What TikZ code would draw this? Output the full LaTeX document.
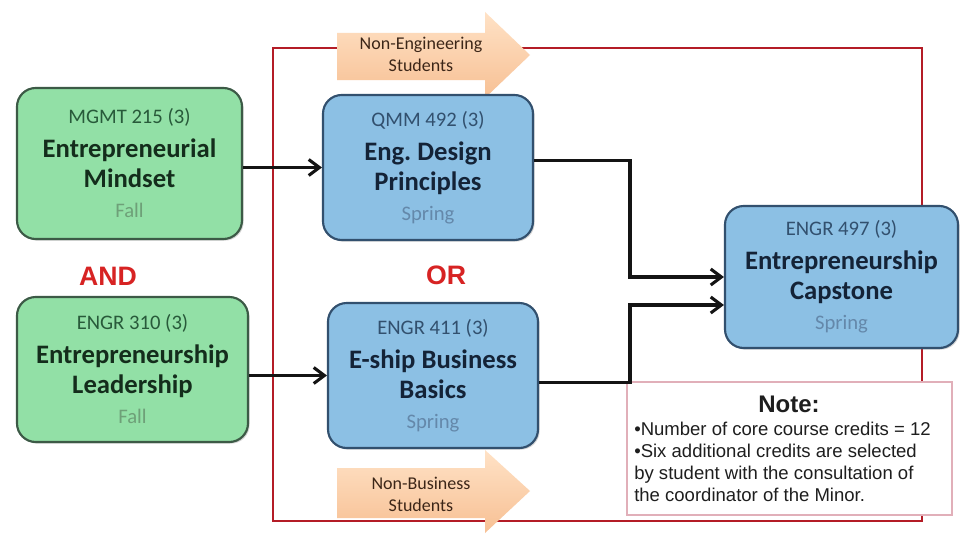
\documentclass[tikz,border=0pt]{standalone}
\usepackage{fontspec}
\setmainfont{Carlito}
\newfontfamily\arialf{Liberation Sans}
\usetikzlibrary{arrows.meta,shadows,calc}
\definecolor{gfill}{RGB}{146,224,166}
\definecolor{gborder}{RGB}{60,90,70}
\definecolor{gtitle}{RGB}{20,45,28}
\definecolor{gsub}{RGB}{40,90,58}
\definecolor{gterm}{RGB}{110,160,120}
\definecolor{bfill}{RGB}{140,192,228}
\definecolor{bborder}{RGB}{50,80,110}
\definecolor{btitle}{RGB}{20,35,55}
\definecolor{bsub}{RGB}{50,80,110}
\definecolor{bterm}{RGB}{100,136,170}
\definecolor{redframe}{RGB}{180,28,38}
\definecolor{andred}{RGB}{215,35,35}
\definecolor{peachtop}{RGB}{255,226,198}
\definecolor{peachbot}{RGB}{247,192,148}
\definecolor{arrowtext}{RGB}{60,38,24}
\definecolor{noteborder}{RGB}{225,175,185}
\definecolor{notetext}{RGB}{30,30,30}
\definecolor{connc}{RGB}{20,20,20}
\newcommand\boxsub[2]{{\fontsize{15.5}{18}\selectfont\mdseries\color{#1}#2}}
\tikzset{
  box/.style={rounded corners=14pt, line width=1.6pt, align=center, inner sep=0pt,
    drop shadow={shadow xshift=1.2pt, shadow yshift=-1.2pt, opacity=0.35},
    font=\fontsize{20}{22.5}\selectfont\bfseries},
  gbox/.style={box, draw=gborder, fill=gfill, text=gtitle},
  bbox/.style={box, draw=bborder, fill=bfill, text=btitle},
  conn/.style={line width=2.3pt, draw=connc, -{Straight Barb[length=8pt,width=12pt,line width=2.3pt]}},
  logic/.style={font=\arialf\bfseries\fontsize{20}{24}\selectfont, text=andred},
  arrowlabel/.style={align=center, font=\fontsize{13.5}{16.5}\selectfont, text=arrowtext},
  fatarrow/.style={top color=peachtop, bottom color=peachbot, draw=none},
}
\begin{document}
\begin{tikzpicture}[x=0.75pt,y=-0.75pt]
\useasboundingbox (0,0) rectangle (962,535);
\fill[white] (0,0) rectangle (962,535);

% red frame
\draw[redframe, line width=1.8pt] (273,48) rectangle (922,521);

% fat arrows
\shade[fatarrow] (337,33) -- (485,33) -- (485,12) -- (530,55) -- (485,98) -- (485,80) -- (337,80) -- cycle;
\node[arrowlabel] (nonengr) at (421,54) {Non-Engineering\\Students};
\shade[fatarrow] (337,468) -- (485,468) -- (485,450) -- (530,491) -- (485,533) -- (485,518) -- (337,518) -- cycle;
\node[arrowlabel] (nonbus) at (421,494) {Non-Business\\Students};

% note box
\node[draw=noteborder, line width=0.8pt, fill=white, minimum width=243.75pt, minimum height=99.75pt,
  inner sep=0pt, drop shadow={shadow xshift=1pt, shadow yshift=-1pt, opacity=0.25}] (note) at (789.5,448.5) {};
\node[font=\arialf\bfseries\fontsize{18}{20}\selectfont, text=notetext] (notetitle) at (789,404) {Note:};
\node[anchor=north west, align=left, inner sep=0pt, font=\arialf\fontsize{13.9}{16.5}\selectfont, text=notetext] (notebody) at (634,422)
  {•Number of core course credits = 12\\•Six additional credits are selected\\by student with the consultation of\\the coordinator of the Minor.};

% course boxes
\node[gbox, minimum width=168.75pt, minimum height=113.25pt] (g1) at (129.5,163.5)
  {\boxsub{gsub}{MGMT 215 (3)}\\[3pt]Entrepreneurial\\Mindset\\\boxsub{gterm}{Fall}};
\node[gbox, minimum width=173.25pt, minimum height=108.75pt] (g2) at (132.5,369.5)
  {\boxsub{gsub}{ENGR 310 (3)}\\[3pt]Entrepreneurship\\Leadership\\\boxsub{gterm}{Fall}};
\node[bbox, minimum width=157.5pt, minimum height=108.75pt] (qmm) at (428,167.5)
  {\boxsub{bsub}{QMM 492 (3)}\\[3pt]Eng.\ Design\\Principles\\\boxsub{bterm}{Spring}};
\node[bbox, minimum width=157.5pt, minimum height=108.75pt] (e411) at (433,375.5)
  {\boxsub{bsub}{ENGR 411 (3)}\\[3pt]E-ship Business\\Basics\\\boxsub{bterm}{Spring}};
\node[bbox, minimum width=174.75pt, minimum height=106.5pt] (cap) at (841.5,277)
  {\boxsub{bsub}{ENGR 497 (3)}\\[3pt]Entrepreneurship\\Capstone\\\boxsub{bterm}{Spring}};

% logic labels
\node[logic] (and) at (108,276) {AND};
\node[logic] (or) at (446,275) {OR};

% connectors
\coordinate (k1) at (630,277);
\coordinate (k2) at (630,305);
\draw[conn] (qmm.west -| g1.east) -- (qmm.west);
\draw[conn] (e411.west -| g2.east) -- (e411.west);
\draw[conn] ([yshift=5.5pt]qmm.east) -| (k1) -- (k1 -| cap.west);
\draw[conn] ([yshift=-5.5pt]e411.east) -| (k2) -- (k2 -| cap.west);
\end{tikzpicture}
\end{document}
